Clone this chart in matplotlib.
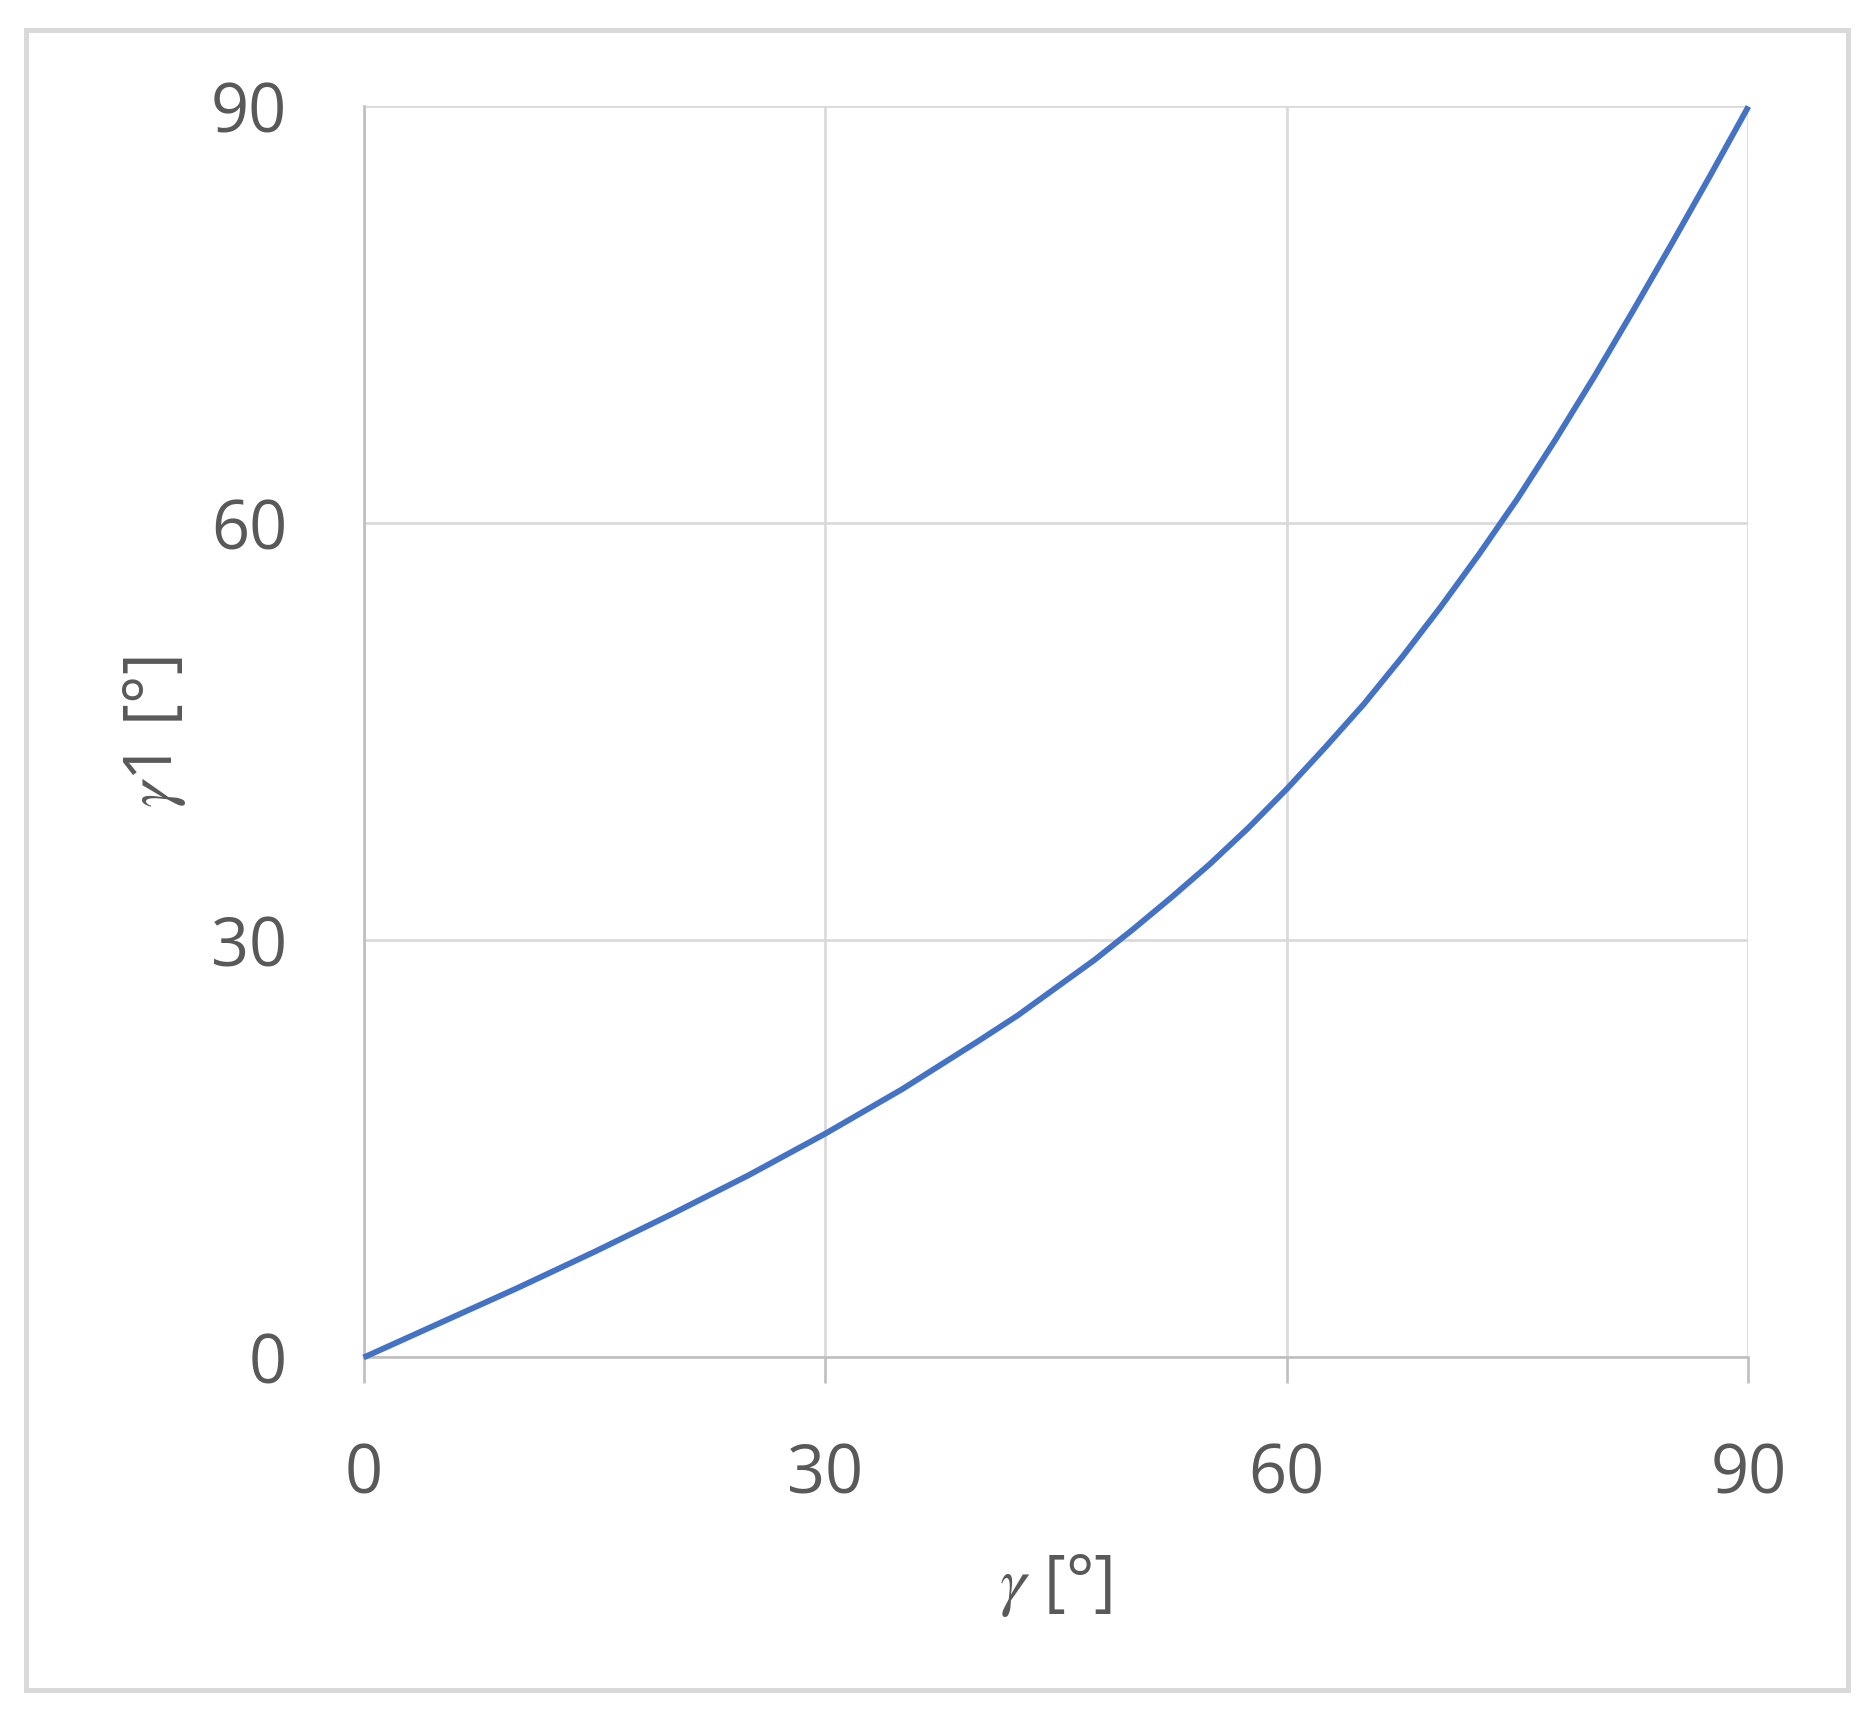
"""Relation between gamma and gamma1, Excel-style line chart."""
import matplotlib

matplotlib.use("Agg")
from matplotlib import pyplot as plt
from matplotlib.patches import Rectangle

plt.rcParams["font.family"] = ["Open Sans", "DejaVu Sans"]
plt.rcParams["mathtext.fontset"] = "stix"

# values
gamma = [0, 5, 10, 15, 20, 25, 30, 35, 40, 42.5, 45, 47.5, 50, 52.5, 55, 57.5,
         60, 62.5, 65, 67.5, 70, 72.5, 75, 77.5, 80, 82.5, 85, 87.5, 90]
gamma1 = [0.0, 2.5, 5.0, 7.6, 10.3, 13.1, 16.1, 19.3, 22.8, 24.6, 26.6, 28.6,
          30.8, 33.1, 35.5, 38.1, 40.9, 43.9, 47.0, 50.4, 54.0, 57.8, 61.8,
          66.1, 70.6, 75.3, 80.1, 85.0, 90.0]
ticks = [0, 30, 60, 90]

TEXT = "#595959"
GRID = "#d9d9d9"
AXIS = "#bfbfbf"
LINE = "#4472c4"

fig = plt.figure(figsize=(18.75, 17.26), dpi=100)
ax = fig.add_axes([0.1939, 0.2135, 0.7386, 0.7248])

ax.plot(gamma, gamma1, color=LINE, linewidth=4.2, solid_capstyle="butt",
        solid_joinstyle="round", zorder=3, clip_on=False)

ax.set_xlim(0, 90)
ax.set_ylim(0, 90)
ax.set_xticks(ticks)
ax.set_yticks(ticks)
ax.grid(True, color=GRID, linewidth=1.9)
ax.set_axisbelow(True)

for side in ("top", "right"):
    ax.spines[side].set_visible(False)
ax.spines["left"].set_color(AXIS)
ax.spines["bottom"].set_color(AXIS)
ax.spines["left"].set_linewidth(1.9)
ax.spines["bottom"].set_linewidth(1.9)

ax.tick_params(axis="x", length=19, width=1.9, color=AXIS, pad=42, labelsize=48, labelcolor=TEXT)
ax.tick_params(axis="y", length=0, pad=55, labelsize=48, labelcolor=TEXT)

ax.set_xlabel(r"$\gamma$ [°]", fontsize=48, color=TEXT, va="center")
ax.set_ylabel(r"$\gamma$1 [°]", fontsize=48, color=TEXT, va="center")
ax.xaxis.set_label_coords(0.5, -0.182)
ax.yaxis.set_label_coords(-0.151, 0.5)

# outer chart-area frame
fig.patches.append(
    Rectangle((0.0139, 0.0209), 0.9717, 0.9617, transform=fig.transFigure,
              fill=False, edgecolor=GRID, linewidth=3.6)
)

fig.savefig("out.png", dpi=100, facecolor="white")
